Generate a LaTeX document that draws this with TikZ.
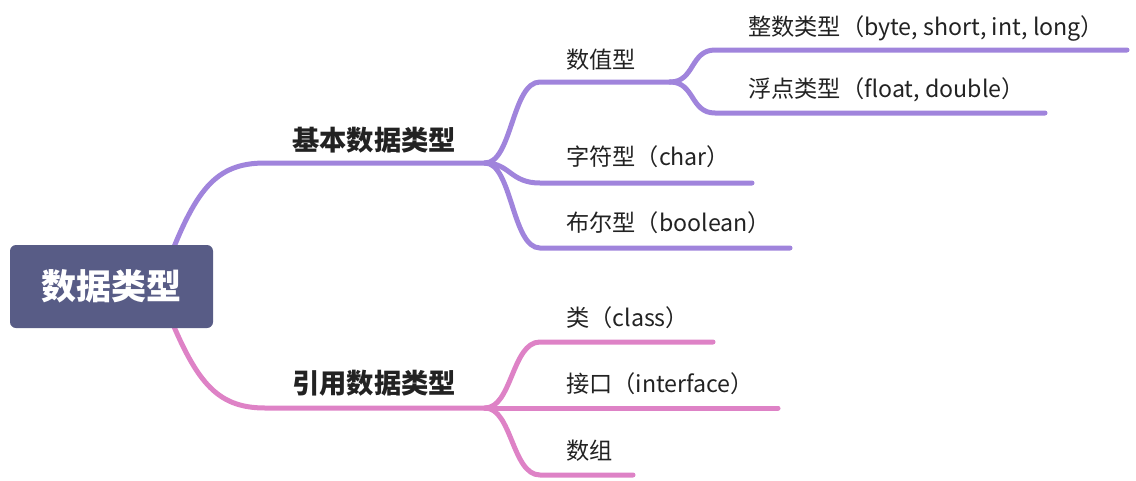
\documentclass[tikz,border=0pt]{standalone}
\usepackage{fontspec}
\setmainfont{Noto Sans CJK SC}
\definecolor{purp}{RGB}{160,132,220}
\definecolor{pinkc}{RGB}{222,130,198}
\definecolor{rootc}{RGB}{88,92,134}
\definecolor{txt}{RGB}{34,34,34}
\begin{document}
\begin{tikzpicture}[x=1pt,y=-1pt,
  branch/.style={line width=5pt,line cap=round},
  leaf/.style={anchor=west,inner sep=0pt,text=txt,font=\fontsize{23.2}{27}\selectfont},
  mid/.style={anchor=west,inner sep=0pt,text=txt,font=\fontsize{27.3}{31}\selectfont\bfseries},
  rootbox/.style={fill=rootc,rounded corners=6pt,minimum width=203pt,minimum height=83pt,text=white,font=\fontsize{35}{40}\selectfont\bfseries}]
\useasboundingbox (0,0) rectangle (1136,480);
% junction coordinates
\coordinate (r1) at (165,270);
\coordinate (r2) at (165,305);
\coordinate (b1s) at (265,163);
\coordinate (j1) at (485,163);
\coordinate (b2s) at (265,408);
\coordinate (j2) at (485,408);
% leaf line ends
\coordinate (n1s) at (540,82);  \coordinate (n1e) at (670,82);
\coordinate (i1s) at (715,50);  \coordinate (i1e) at (1127,50);
\coordinate (f1s) at (715,113); \coordinate (f1e) at (1045,113);
\coordinate (c1s) at (540,183); \coordinate (c1e) at (752,183);
\coordinate (o1s) at (540,248); \coordinate (o1e) at (790,248);
\coordinate (k1s) at (540,342); \coordinate (k1e) at (713,342);
\coordinate (e1s) at (540,408); \coordinate (e1e) at (778,408);
\coordinate (a1s) at (540,475); \coordinate (a1e) at (633,475);
% purple branches
\draw[branch,purp] (r1) .. controls (195,190) and (215,163) .. (b1s) -- (j1);
\draw[branch,purp] (j1) .. controls (512,163) and (512,82) .. (n1s) -- (n1e);
\draw[branch,purp] (n1e) .. controls (695,82) and (690,50) .. (i1s) -- (i1e);
\draw[branch,purp] (n1e) .. controls (695,82) and (690,113) .. (f1s) -- (f1e);
\draw[branch,purp] (j1) .. controls (510,163) and (510,183) .. (c1s) -- (c1e);
\draw[branch,purp] (j1) .. controls (512,163) and (512,248) .. (o1s) -- (o1e);
% pink branches
\draw[branch,pinkc] (r2) .. controls (195,380) and (215,408) .. (b2s) -- (j2);
\draw[branch,pinkc] (j2) .. controls (512,408) and (512,342) .. (k1s) -- (k1e);
\draw[branch,pinkc] (j2) -- (e1s) -- (e1e);
\draw[branch,pinkc] (j2) .. controls (512,408) and (512,475) .. (a1s) -- (a1e);
% root
\node[rootbox] (root) at (111.5,286.5) {数据类型};
% labels
\node[mid] (basic) at (292,140) {基本数据类型};
\node[mid] (ref) at (292,383) {引用数据类型};
\node[leaf] (num) at (566,60) {数值型};
\node[leaf] (int) at (748,28) {整数类型（byte, short, int, long）};
\node[leaf] (flt) at (748,90) {浮点类型（float, double）};
\node[leaf] (chr) at (566,157) {字符型（char）};
\node[leaf] (bool) at (566,223) {布尔型（boolean）};
\node[leaf] (cls) at (566,318) {类（class）};
\node[leaf] (ifc) at (566,384) {接口（interface）};
\node[leaf] (arr) at (566,451) {数组};
\end{tikzpicture}
\end{document}
